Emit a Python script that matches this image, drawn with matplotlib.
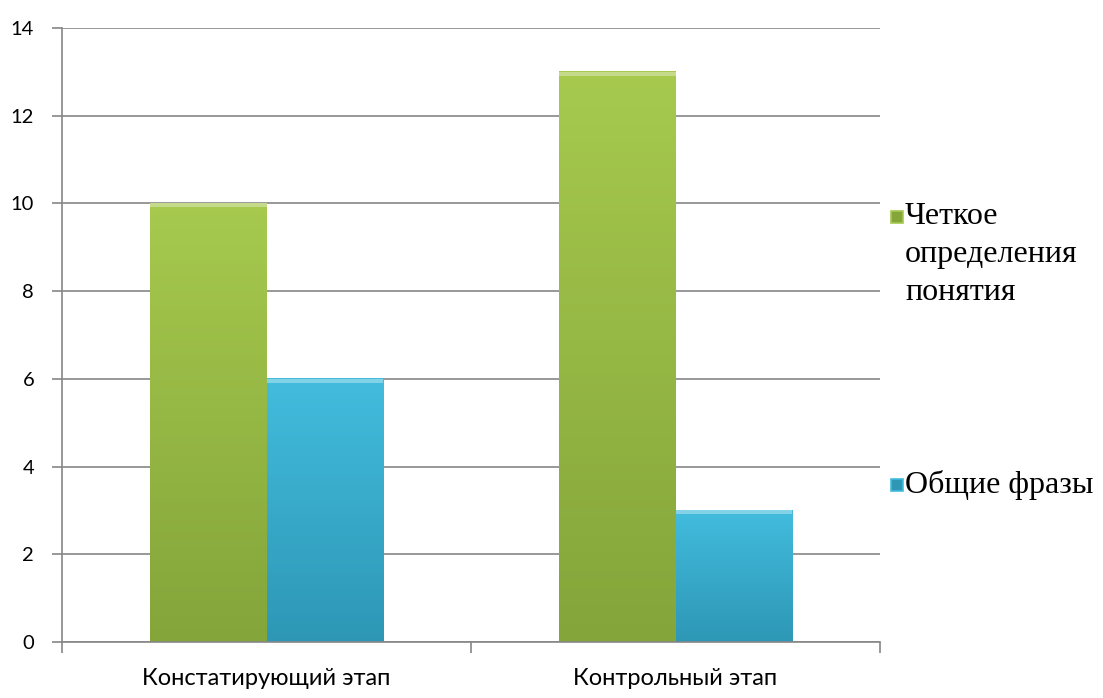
import numpy as np
import matplotlib
matplotlib.use("Agg")
import matplotlib.pyplot as plt
from matplotlib.patches import Rectangle

categories = ["Констатирующий этап", "Контрольный этап"]
series_names = ["Четкое\nопределения\nпонятия", "Общие фразы"]
clear_def = [10, 13]
general = [6, 3]

colors_top = ["#A6C94E", "#42BCDD"]
colors_bot = ["#84A53A", "#2E97B6"]

fig = plt.figure(figsize=(11.03, 6.98), dpi=100)
ax = fig.add_axes([62 / 1103, 1 - 642 / 698, 818 / 1103, 614 / 698])

x = np.arange(len(categories))
w = 0.286
grad = np.linspace(1, 0, 64).reshape(-1, 1)

for k, vals in enumerate([clear_def, general]):
    offs = -w / 2 if k == 0 else w / 2
    bars = ax.bar(x + offs, vals, w, color=colors_bot[k], zorder=2, linewidth=0)
    cmap = matplotlib.colors.LinearSegmentedColormap.from_list(
        "g%d" % k, [colors_bot[k], colors_top[k]])
    for b in bars:
        x0, y0 = b.get_x(), b.get_y()
        bw, bh = b.get_width(), b.get_height()
        ax.imshow(grad, cmap=cmap, aspect="auto", zorder=2.5,
                  extent=[x0, x0 + bw, y0, y0 + bh])
        # light bevel on top edge
        ax.add_patch(Rectangle((x0, y0 + bh - 0.09), bw, 0.09,
                               color="white", alpha=0.35, lw=0, zorder=3))

ax.set_xlim(-0.5, len(categories) - 0.5)
ax.set_ylim(0, 14)
ax.set_yticks(np.arange(0, 15, 2))
ax.yaxis.grid(True, color="#868686", lw=1.2, zorder=0)
ax.set_axisbelow(True)

ax.set_xticks(x)
ax.set_xticklabels(categories, fontfamily="Lato", fontsize=17)
ax.set_xticks(np.arange(-0.5, len(categories), 1), minor=True)
ax.tick_params(axis="x", which="major", length=0, pad=19)
ax.tick_params(axis="x", which="minor", length=8, color="#868686", width=1.2)
ax.tick_params(axis="y", length=7, color="#868686", width=1.2, pad=13,
               labelsize=14.5)
for lab in ax.get_yticklabels():
    lab.set_fontfamily("Lato")

for s in ["top", "right"]:
    ax.spines[s].set_visible(False)
for s in ["left", "bottom"]:
    ax.spines[s].set_color("#868686")
    ax.spines[s].set_linewidth(1.2)

# legend, placed by hand
leg_y = [217, 485]
for k, name in enumerate(series_names):
    yy = 1 - leg_y[k] / 698
    fig.patches.append(Rectangle((891 / 1103, yy - 6 / 698), 12 / 1103, 12 / 698,
                                 transform=fig.transFigure,
                                 facecolor=colors_bot[k], edgecolor=colors_top[k],
                                 lw=1.2))
    fig.text(905 / 1103, yy + 15 / 698, name, fontfamily="Liberation Serif",
             fontsize=23, va="top", ha="left", linespacing=1.42,
             transform=fig.transFigure)

fig.savefig("out.png", dpi=100)
